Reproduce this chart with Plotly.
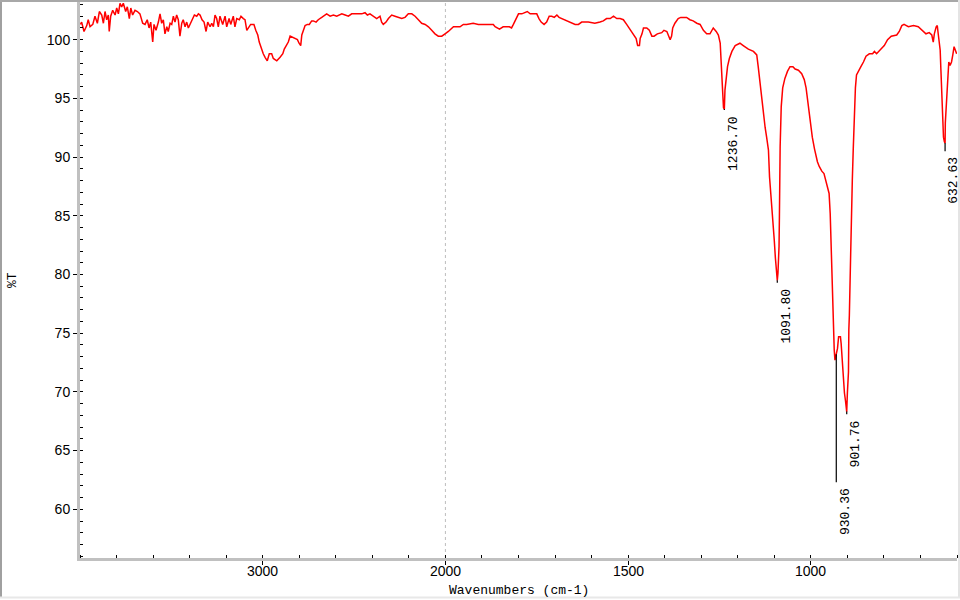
import numpy as np
import plotly.graph_objects as go

# IR spectrum, %T vs wavenumber (cm-1)
wavenumber = [
    3998, 3991, 3978, 3963, 3955, 3945, 3930, 3918, 3905, 3894,
    3881, 3872, 3863, 3854, 3845, 3840, 3832, 3821, 3808, 3799,
    3790, 3781, 3772, 3763, 3750, 3741, 3730, 3722, 3712, 3699,
    3686, 3672, 3657, 3644, 3632, 3622, 3613, 3602, 3595, 3584,
    3571, 3562, 3553, 3544, 3535, 3525, 3517, 3507,
    3498, 3489, 3480, 3471, 3462, 3453, 3443, 3435, 3425, 3416,
    3407, 3398, 3383, 3374, 3361, 3352, 3343, 3332, 3321, 3310,
    3301, 3288, 3279, 3270, 3261, 3252, 3243, 3234, 3219, 3206,
    3197, 3184, 3175, 3161, 3152, 3142, 3128, 3119, 3106, 3097,
    3087, 3079, 3066, 3055, 3048, 3038, 3027, 3019, 3005,
    2997, 2987, 2975, 2964, 2951, 2942, 2923, 2905, 2890, 2882,
    2869, 2860, 2850, 2836, 2823, 2810, 2801, 2792, 2786, 2778,
    2768, 2756, 2745, 2732, 2723, 2708, 2696, 2677, 2650, 2631,
    2613, 2595, 2567, 2549, 2531, 2513, 2485, 2458, 2440, 2427,
    2413, 2394, 2376, 2358, 2349, 2340, 2325, 2312, 2294, 2276,
    2258, 2239, 2221, 2203, 2184, 2166, 2148, 2130, 2111, 2093,
    2075, 2057, 2039, 2020, 2002,
    1992, 1978, 1960, 1951, 1942, 1924, 1910, 1869, 1864, 1852,
    1842, 1825, 1819, 1814, 1807, 1800, 1791, 1782, 1776, 1768,
    1759, 1750, 1744, 1738, 1730, 1723, 1716, 1709, 1702, 1695,
    1689, 1682, 1670, 1659, 1650, 1645, 1636, 1627, 1609, 1591,
    1577, 1568, 1559, 1549, 1540, 1531, 1522, 1513, 1504, 1495,
    1486, 1478, 1474, 1469, 1467, 1462, 1458, 1449, 1442, 1435,
    1429, 1420, 1408, 1402, 1394, 1390, 1385, 1381, 1378, 1372,
    1363, 1356, 1340, 1331, 1322, 1312, 1303, 1294, 1285, 1276,
    1267, 1259, 1253,
    1248, 1246, 1242, 1239, 1236.7, 1235, 1232, 1228, 1223, 1216,
    1207, 1194, 1185, 1171, 1157, 1148, 1144, 1139, 1134, 1130,
    1125, 1121, 1116, 1113, 1109, 1105, 1103, 1100, 1097, 1095,
    1093, 1091.8, 1090, 1088, 1087, 1086, 1085, 1084, 1081, 1077,
    1071, 1064, 1057, 1049, 1043, 1034, 1025, 1018, 1013, 1007,
    1002,
    996, 990, 986, 982, 977, 970, 964, 960, 955, 950,
    947, 945, 943, 940, 936, 934, 931, 927, 924, 919,
    917, 915, 913, 911, 908, 905, 903.5, 901.8, 900, 897,
    896, 894.6, 891, 888, 886.5, 884, 881, 878, 875, 869,
    863, 856, 849, 840, 831, 826, 820, 808, 799, 790,
    780, 765, 758, 751, 745, 733, 719, 706, 694, 685,
    676, 669, 665, 662, 657, 654, 651, 646, 644, 641,
    637, 634.5, 632.6, 632, 628, 625, 622.5, 619, 615, 611.5,
    608, 604.4, 601,
]
transmittance = [
    101.3, 101.5, 100.7, 101.2, 101.7, 101.1, 101.3, 102.0, 101.4, 102.4,
    102.1, 101.4, 102.4, 101.7, 102.1, 100.7, 102.0, 102.5, 102.1, 102.7,
    102.2, 103.1, 102.8, 103.1, 102.4, 102.8, 101.8, 102.7, 102.1, 102.5,
    102.4, 102.2, 101.4, 101.3, 101.7, 101.0, 101.5, 99.8, 101.3, 100.8,
    101.5, 102.2, 101.4, 101.7, 100.5, 101.1, 100.7, 101.4,
    101.3, 102.0, 101.5, 102.1, 101.7, 100.3, 101.4, 101.7, 101.1, 101.5,
    101.0, 101.3, 101.7, 102.1, 102.0, 102.2, 102.1, 101.7, 101.5, 100.7,
    101.5, 101.1, 101.4, 101.1, 102.1, 101.8, 101.1, 102.0, 101.3, 102.0,
    101.1, 101.8, 101.3, 102.0, 101.1, 101.8, 101.7, 102.0, 101.8, 101.7,
    100.8, 101.0, 101.3, 101.3, 101.3, 100.8, 100.4, 99.8, 99.1,
    98.8, 98.5, 98.2, 98.8, 98.8, 98.4, 98.2, 98.5, 98.8, 99.2,
    99.5, 99.8, 100.3, 100.2, 100.1, 100.0, 99.7, 99.5, 100.4, 100.7,
    101.2, 101.3, 101.3, 101.6, 101.6, 101.5, 101.7, 101.9, 102.2, 102.0,
    102.1, 102.0, 102.2, 102.1, 102.0, 102.2, 102.2, 102.2, 102.3, 102.1,
    102.2, 102.0, 101.8, 102.0, 101.5, 101.3, 101.5, 101.8, 102.1, 102.0,
    101.9, 101.8, 101.9, 102.2, 102.2, 102.0, 101.7, 101.4, 101.3, 101.1,
    100.8, 100.5, 100.3, 100.3, 100.5,
    100.7, 101.1, 101.1, 101.3, 101.3, 101.4, 101.3, 101.3, 101.1, 100.9,
    101.1, 101.1, 101.0, 101.3, 101.7, 102.2, 102.2, 102.3, 102.4, 102.2,
    102.2, 102.2, 101.8, 101.5, 101.3, 101.5, 102.0, 102.0, 101.9, 102.1,
    101.9, 101.8, 101.7, 101.5, 101.4, 101.3, 101.3, 101.5, 101.5, 101.4,
    101.5, 101.6, 101.8, 101.8, 102.0, 101.8, 101.8, 101.7, 101.3, 100.9,
    100.5, 100.1, 99.5, 99.5, 100.1, 100.5, 101.0, 101.0, 100.8, 100.3,
    100.3, 100.5, 100.6, 100.8, 100.7, 100.3, 100.0, 100.3, 101.0, 101.4,
    101.8, 101.9, 101.9, 101.7, 101.6, 101.4, 101.3, 100.8, 100.5, 100.5,
    101.0, 100.7, 100.4,
    99.7, 98.1, 96.0, 94.2, 94.1, 95.7, 96.6, 97.7, 98.4, 99.0,
    99.5, 99.7, 99.5, 99.2, 99.0, 98.7, 97.7, 96.3, 94.9, 93.4,
    92.5, 91.7, 90.6, 88.3, 86.8, 85.3, 84.4, 82.9, 81.4, 80.3,
    79.6, 79.5, 80.1, 81.1, 82.4, 84.9, 88.5, 90.9, 94.3, 95.9,
    96.7, 97.3, 97.7, 97.7, 97.5, 97.4, 97.1, 96.6, 95.9, 94.3,
    92.9,
    91.7, 90.7, 90.0, 89.6, 89.2, 88.8, 88.6, 88.1, 87.5, 86.9,
    85.2, 82.9, 79.5, 76.7, 73.6, 72.7, 73.1, 73.7, 74.7, 74.7,
    74.1, 73.0, 71.9, 71.6, 69.9, 69.2, 68.5, 68.3, 69.9, 71.7,
    75.3, 76.5, 81.7, 84.6, 88.0, 90.6, 94.0, 95.9, 97.0, 97.4,
    97.7, 98.1, 98.6, 98.8, 98.8, 99.0, 98.8, 99.2, 99.5, 100.0,
    100.3, 100.4, 100.7, 101.2, 101.3, 101.1, 101.2, 101.1, 100.8, 100.5,
    100.6, 100.4, 99.8, 100.5, 101.1, 101.2, 100.4, 99.1, 97.4, 94.9,
    91.7, 91.3, 91.2, 92.9, 95.1, 97.1, 98.1, 97.8, 98.1, 98.7,
    99.4, 99.1, 98.8,
]

peak_wn = [1236.70, 1091.80, 930.36, 901.76, 632.63]
peak_T = [94.0, 79.3, 62.3, 68.1, 90.5]

tick_wn = [3000, 2000, 1500, 1000]
split_wn = 2000  # scale is halved above this wavenumber

MONO = "Liberation Mono"
SANS = "Liberation Sans"


def to_axis(w):
    # IR style split scale: 4000-2000 compressed by a factor of two
    w = np.asarray(w, dtype=float)
    return np.where(w > split_wn, split_wn + (w - split_wn) / 2, w)


def px_x(p):
    return (p - 80) / 877


def px_y(p):
    return (558 - p) / 556


u = to_axis(wavenumber)
t = np.asarray(transmittance)

fig = go.Figure()
fig.add_trace(go.Scatter(x=u, y=t, mode="lines", line=dict(color="#ff0000", width=1.5),
                         hoverinfo="skip"))

# black peak marks, from the curve down to the picked peak value
order = np.argsort(u)
mark_x, mark_y = [], []
for w, pt in zip(peak_wn, peak_T):
    uw = float(to_axis(w))
    top = float(np.interp(uw, u[order], t[order]))
    mark_x += [uw, uw, None]
    mark_y += [top, pt, None]
fig.add_trace(go.Scatter(x=mark_x, y=mark_y, mode="lines", line=dict(color="black", width=1.2),
                         hoverinfo="skip"))

for w, pt in zip(peak_wn, peak_T):
    fig.add_annotation(x=float(to_axis(w)), y=pt, text=f"{w:.2f}", showarrow=False,
                       textangle=-90, xanchor="center", yanchor="top", xshift=9, yshift=-4,
                       font=dict(family=MONO, size=13, color="black"))

# x tick labels sit a little closer to the axis than plotly puts them
for w in tick_wn:
    fig.add_annotation(x=float(to_axis(w)), y=px_y(571), xref="x", yref="paper", text=str(w),
                       showarrow=False, xanchor="center", yanchor="middle",
                       font=dict(family=SANS, size=14, color="black"))

fig.add_annotation(x=0.5, y=px_y(590), xref="paper", yref="paper", text="Wavenumbers (cm-1)",
                   showarrow=False, xanchor="center", yanchor="middle",
                   font=dict(family=MONO, size=13, color="black"))
fig.add_annotation(x=px_x(12), y=px_y(280), xref="paper", yref="paper", text="%T",
                   showarrow=False, textangle=-90, xanchor="center", yanchor="middle",
                   font=dict(family=MONO, size=13, color="black"))

# dashed marker at the scale break
fig.add_shape(type="line", x0=split_wn, x1=split_wn, y0=0, y1=1, xref="x", yref="paper",
              line=dict(color="#bdbdbd", width=1, dash="3px,3px"), layer="below")

# window frame
fig.add_shape(type="line", xref="paper", yref="paper", x0=px_x(1), x1=px_x(1),
              y0=px_y(0), y1=px_y(597), line=dict(color="#a0a0a0", width=2))
fig.add_shape(type="line", xref="paper", yref="paper", x0=px_x(0), x1=px_x(960),
              y0=px_y(1), y1=px_y(1), line=dict(color="#a8a8a8", width=2))
fig.add_shape(type="line", xref="paper", yref="paper", x0=px_x(959), x1=px_x(959),
              y0=px_y(0), y1=px_y(598), line=dict(color="#e4e4e4", width=2))
fig.add_shape(type="line", xref="paper", yref="paper", x0=px_x(0), x1=px_x(960),
              y0=px_y(597.5), y1=px_y(597.5), line=dict(color="#e8e8e8", width=2))

fig.update_xaxes(range=[3000, 600], tickmode="array", tickvals=to_axis(tick_wn),
                 showticklabels=False, ticks="outside", ticklen=4,
                 tickcolor="black", tickwidth=1, showline=True, linecolor="#c0c0c0",
                 linewidth=3, showgrid=False, zeroline=False,
                 minor=dict(tickmode="linear", tick0=0, dtick=100, ticks="inside", ticklen=3,
                            tickcolor="black", tickwidth=1, showgrid=False))
fig.update_yaxes(range=[55.85, 103.21], tickmode="linear", tick0=0, dtick=5, ticks="outside",
                 ticklen=4, tickcolor="black", tickwidth=1, showline=True, linecolor="#c0c0c0",
                 linewidth=3, showgrid=False, zeroline=False,
                 tickfont=dict(family=SANS, size=14, color="black"),
                 minor=dict(tickmode="linear", tick0=0, dtick=1, ticks="inside", ticklen=3,
                            tickcolor="black", tickwidth=1, showgrid=False))

fig.update_layout(width=960, height=600, margin=dict(l=80, r=3, t=2, b=42),
                  paper_bgcolor="white", plot_bgcolor="white", showlegend=False)

# the page body has a default 8px margin; drop it so the figure fills the window
fig.write_html("out.html", config={"displayModeBar": False},
               post_script="document.body.style.margin='0';")
